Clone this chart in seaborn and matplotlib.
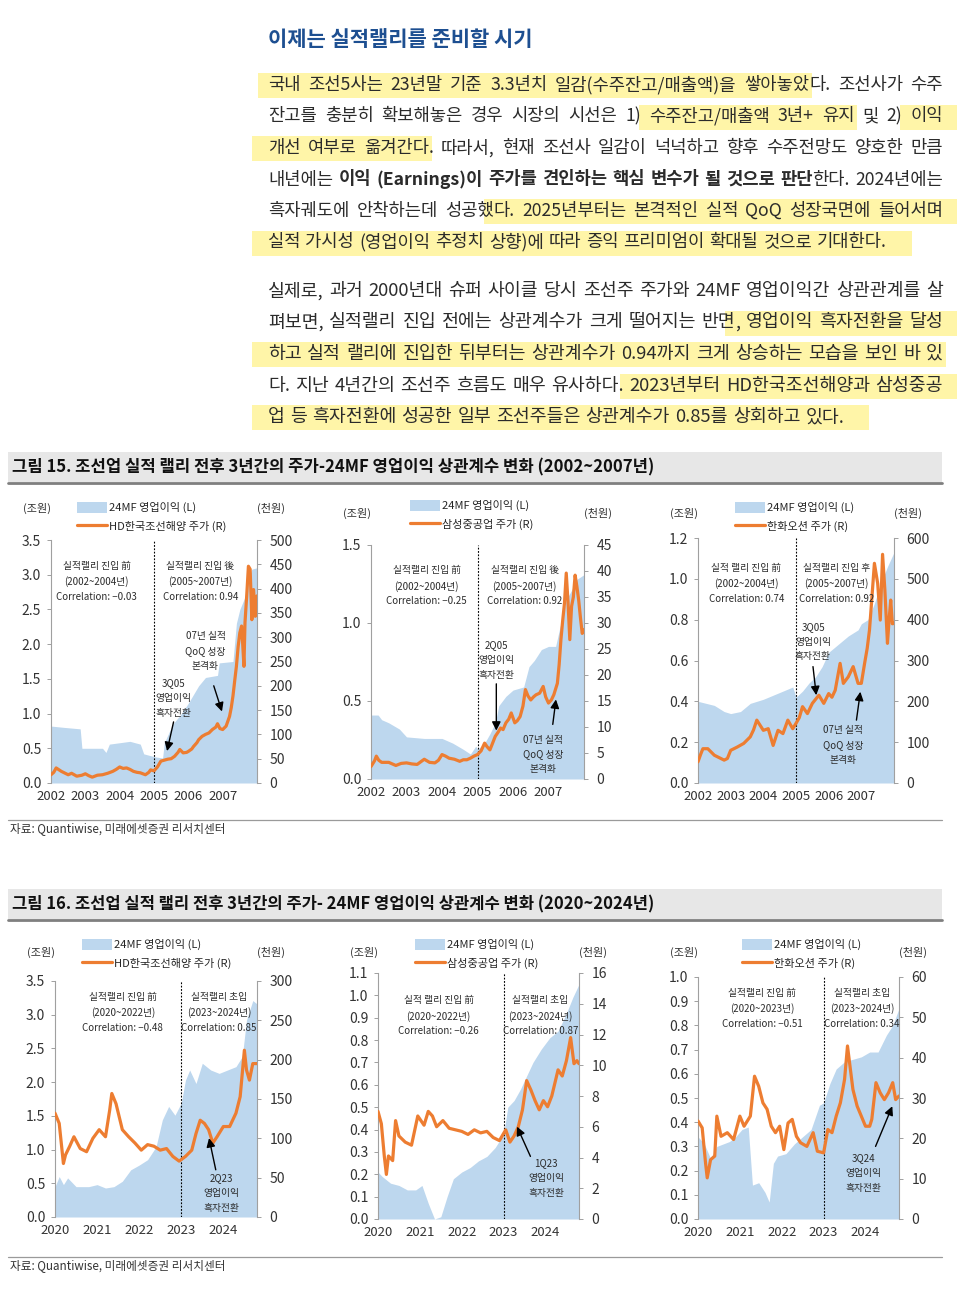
import numpy as np
import matplotlib
matplotlib.use("Agg")
import matplotlib.pyplot as plt
import seaborn as sns
from matplotlib.patches import Patch, Rectangle
from matplotlib.lines import Line2D
from matplotlib.ticker import FormatStrFormatter

sns.set_theme(style="white")
plt.rcParams["font.family"] = ["Noto Sans CJK KR", "DejaVu Sans"]
plt.rcParams["axes.unicode_minus"] = False

W, H = 961, 1290
OP_COLOR = "#BDD7EE"
PX_COLOR = "#ED7D31"
TXT = "#2b2b2b"

# ---------------- 데이터 (그림 15: 2002~2007) ----------------
hd02_op_t = [2002.0, 2002.4, 2002.85, 2002.9, 2003.5, 2003.6, 2003.7, 2004.0, 2004.3, 2004.6, 2004.7,
             2005.0, 2005.25, 2005.3, 2005.55, 2005.8, 2006.0, 2006.3, 2006.5, 2006.85, 2006.9,
             2007.3, 2007.4, 2007.5, 2007.65, 2007.75, 2007.85, 2008.0]
hd02_op = [0.82, 0.80, 0.78, 0.50, 0.50, 0.44, 0.56, 0.58, 0.60, 0.56, 0.42,
           0.38, 0.36, 0.58, 0.85, 1.00, 1.15, 1.40, 1.52, 1.55, 1.73,
           1.75, 2.30, 2.50, 2.68, 2.95, 3.08, 3.10]
hd02_px_t = [2002.0, 2002.08, 2002.15, 2002.3, 2002.5, 2002.6, 2002.75, 2002.9, 2003.0, 2003.1, 2003.2,
             2003.35, 2003.5, 2003.65, 2003.8, 2003.9, 2004.0, 2004.1, 2004.2, 2004.3, 2004.4, 2004.5,
             2004.6, 2004.75, 2004.85, 2004.9, 2005.0, 2005.1, 2005.2, 2005.3, 2005.4, 2005.5, 2005.6,
             2005.7, 2005.75, 2005.85, 2005.95, 2006.0, 2006.1, 2006.15, 2006.25, 2006.3, 2006.4, 2006.5,
             2006.6, 2006.7, 2006.8, 2006.85, 2006.92, 2007.0, 2007.1, 2007.2, 2007.25, 2007.3, 2007.35,
             2007.4, 2007.45, 2007.5, 2007.55, 2007.58, 2007.62, 2007.65, 2007.7, 2007.75, 2007.8,
             2007.85, 2007.9, 2007.95, 2008.0]
hd02_px = [17, 22, 31, 24, 17, 20, 14, 16, 19, 15, 12,
           16, 17, 20, 24, 28, 33, 30, 31, 28, 24, 22,
           21, 17, 22, 27, 25, 33, 45, 47, 49, 50, 55,
           63, 69, 62, 63, 65, 70, 75, 83, 89, 96, 100,
           103, 110, 115, 122, 112, 110, 117, 137, 155, 179, 210,
           240, 280, 309, 323, 290, 240, 330, 385, 446, 440,
           336, 398, 343, 385]

shi02_op_t = [2002.0, 2002.2, 2002.3, 2002.5, 2002.8, 2003.0, 2003.5, 2004.0, 2004.3, 2004.6, 2004.8,
              2004.95, 2005.0, 2005.2, 2005.35, 2005.5, 2005.6, 2005.8, 2006.0, 2006.3, 2006.45,
              2006.6, 2006.8, 2007.0, 2007.2, 2007.35, 2007.5, 2007.65, 2007.8, 2008.0]
shi02_op = [0.41, 0.41, 0.38, 0.36, 0.32, 0.27, 0.26, 0.26, 0.23, 0.19, 0.16,
            0.21, 0.19, 0.23, 0.29, 0.36, 0.47, 0.53, 0.57, 0.59, 0.72,
            0.76, 0.83, 0.85, 0.85, 1.00, 1.15, 1.21, 1.28, 1.31]
shi02_px_t = [2002.0, 2002.1, 2002.15, 2002.22, 2002.3, 2002.5, 2002.7, 2002.85, 2003.0, 2003.15, 2003.3,
              2003.5, 2003.65, 2003.8, 2003.9, 2004.0, 2004.1, 2004.2, 2004.35, 2004.5, 2004.6, 2004.7,
              2004.8, 2004.9, 2005.0, 2005.1, 2005.2, 2005.27, 2005.35, 2005.42, 2005.5, 2005.58, 2005.65,
              2005.72, 2005.8, 2005.88, 2005.95, 2006.05, 2006.12, 2006.2, 2006.28, 2006.35, 2006.42,
              2006.5, 2006.58, 2006.65, 2006.75, 2006.85, 2006.92, 2007.0, 2007.08, 2007.15, 2007.25,
              2007.3, 2007.35, 2007.4, 2007.45, 2007.5, 2007.55, 2007.6, 2007.65, 2007.7, 2007.75,
              2007.8, 2007.85, 2007.9, 2007.95, 2008.0]
shi02_px = [2.4, 3.5, 4.4, 3.6, 3.2, 3.2, 2.6, 3.0, 3.1, 2.9, 2.8,
            3.8, 3.2, 3.1, 3.6, 4.7, 4.4, 4.0, 3.8, 3.4, 3.7, 3.7,
            4.0, 4.4, 4.7, 5.4, 6.9, 6.2, 5.6, 6.8, 8.2, 9.0, 9.8,
            9.5, 10.8, 11.5, 12.7, 10.8, 11.2, 12.0, 14.0, 17.2, 16.0,
            15.2, 15.8, 16.2, 16.5, 17.8, 15.8, 14.6, 15.2, 16.2, 18.4,
            22.0, 26.8, 30.5, 33.8, 39.6, 34.0, 26.8, 33.2, 35.0, 39.2,
            37.0, 34.4, 31.0, 28.0, 28.7]

hwo02_op_t = [2002.0, 2002.5, 2002.8, 2003.0, 2003.3, 2003.6, 2004.0, 2004.3, 2004.6, 2004.9, 2005.0,
              2005.2, 2005.4, 2005.6, 2005.8, 2006.0, 2006.3, 2006.6, 2006.9, 2007.0, 2007.2,
              2007.4, 2007.6, 2007.8, 2008.0]
hwo02_op = [0.40, 0.38, 0.35, 0.34, 0.35, 0.39, 0.41, 0.43, 0.45, 0.47, 0.42,
            0.45, 0.49, 0.52, 0.57, 0.64, 0.68, 0.72, 0.75, 0.78, 0.80,
            0.88, 0.98, 1.06, 1.13]
hwo02_px_t = [2002.0, 2002.08, 2002.15, 2002.3, 2002.5, 2002.65, 2002.8, 2002.9, 2003.0, 2003.2, 2003.4,
              2003.6, 2003.7, 2003.8, 2004.0, 2004.15, 2004.3, 2004.45, 2004.6, 2004.75, 2004.9,
              2005.0, 2005.1, 2005.2, 2005.35, 2005.5, 2005.6, 2005.7, 2005.85, 2006.0, 2006.1,
              2006.2, 2006.35, 2006.45, 2006.6, 2006.75, 2006.9, 2007.0, 2007.1, 2007.18, 2007.25,
              2007.32, 2007.4, 2007.5, 2007.58, 2007.65, 2007.72, 2007.8, 2007.85, 2007.9, 2007.95, 2008.0]
hwo02_px = [52, 70, 84, 84, 68, 62, 56, 60, 80, 88, 97,
            113, 130, 154, 129, 133, 92, 129, 121, 154, 133,
            146, 160, 187, 170, 195, 205, 215, 195, 219, 210,
            227, 293, 244, 260, 285, 244, 244, 293, 330, 375,
            450, 538, 489, 399, 560, 473, 342, 400, 448, 390, 391]

# ---------------- 데이터 (그림 16: 2020~2024) ----------------
hd20_op_t = [2020.0, 2020.1, 2020.2, 2020.3, 2020.5, 2020.8, 2021.0, 2021.2, 2021.4, 2021.6, 2021.8,
             2022.0, 2022.2, 2022.4, 2022.55, 2022.7, 2022.85, 2023.0, 2023.1, 2023.2, 2023.35,
             2023.5, 2023.7, 2023.9, 2024.1, 2024.3, 2024.45, 2024.55, 2024.7, 2024.8]
hd20_op = [0.45, 0.60, 0.48, 0.58, 0.45, 0.45, 0.48, 0.43, 0.45, 0.53, 0.70,
           0.77, 0.85, 1.04, 1.44, 1.64, 1.51, 1.69, 2.03, 2.18, 1.98,
           2.28, 2.18, 2.13, 2.18, 2.23, 2.38, 2.92, 3.21, 3.16]
hd20_px_t = [2020.0, 2020.1, 2020.2, 2020.25, 2020.35, 2020.45, 2020.6, 2020.75, 2020.9, 2021.05, 2021.2,
             2021.3, 2021.35, 2021.45, 2021.6, 2021.75, 2021.9, 2022.05, 2022.2, 2022.35, 2022.5,
             2022.65, 2022.8, 2022.95, 2023.1, 2023.25, 2023.35, 2023.45, 2023.55, 2023.65, 2023.75,
             2023.85, 2024.0, 2024.15, 2024.3, 2024.4, 2024.5, 2024.55, 2024.62, 2024.7, 2024.8]
hd20_px = [132, 119, 68, 79, 90, 102, 87, 83, 100, 111, 102,
           136, 157, 144, 111, 102, 94, 85, 92, 90, 85,
           87, 77, 71, 77, 85, 106, 123, 119, 111, 94,
           102, 115, 115, 132, 153, 212, 187, 174, 195, 195]

shi20_op_t = [2020.0, 2020.1, 2020.3, 2020.5, 2020.7, 2020.9, 2021.05, 2021.2, 2021.35, 2021.5, 2021.65,
              2021.8, 2022.0, 2022.2, 2022.4, 2022.6, 2022.8, 2023.0, 2023.1, 2023.25, 2023.4,
              2023.55, 2023.7, 2023.9, 2024.1, 2024.3, 2024.5, 2024.65, 2024.8]
shi20_op = [0.21, 0.19, 0.16, 0.15, 0.13, 0.13, 0.15, 0.07, 0.00, 0.01, 0.10,
            0.18, 0.21, 0.23, 0.26, 0.28, 0.32, 0.38, 0.50, 0.53, 0.58,
            0.64, 0.70, 0.76, 0.81, 0.84, 0.92, 0.99, 1.05]
shi20_px_t = [2020.0, 2020.08, 2020.15, 2020.2, 2020.25, 2020.35, 2020.42, 2020.5, 2020.65, 2020.8, 2020.95,
              2021.1, 2021.2, 2021.3, 2021.4, 2021.55, 2021.7, 2021.85, 2022.0, 2022.15, 2022.3,
              2022.45, 2022.6, 2022.75, 2022.9, 2023.05, 2023.15, 2023.25, 2023.35, 2023.45, 2023.55,
              2023.65, 2023.75, 2023.85, 2023.95, 2024.05, 2024.15, 2024.3, 2024.4, 2024.5, 2024.6,
              2024.68, 2024.75, 2024.8]
shi20_px = [7.0, 6.2, 4.1, 2.9, 4.1, 3.8, 6.4, 5.4, 5.0, 4.8, 6.7,
            6.1, 7.0, 6.7, 6.0, 6.4, 5.9, 5.8, 5.7, 5.5, 5.8,
            5.6, 5.7, 5.3, 5.1, 5.8, 5.0, 5.4, 6.0, 7.1, 9.0,
            8.4, 7.7, 7.1, 7.7, 7.3, 8.0, 9.7, 9.3, 10.3, 11.8,
            10.1, 10.3, 10.1]

hwo20_op_t = [2020.0, 2020.15, 2020.3, 2020.45, 2020.6, 2020.75, 2020.9, 2021.05, 2021.2, 2021.3, 2021.45,
              2021.6, 2021.7, 2021.8, 2021.9, 2022.1, 2022.3, 2022.5, 2022.7, 2022.9, 2023.0,
              2023.15, 2023.3, 2023.5, 2023.7, 2023.9, 2024.1, 2024.3, 2024.5, 2024.65, 2024.8]
hwo20_op = [0.34, 0.31, 0.25, 0.30, 0.31, 0.32, 0.34, 0.37, 0.38, 0.14, 0.15,
            0.11, 0.07, 0.23, 0.26, 0.27, 0.31, 0.34, 0.37, 0.47, 0.48,
            0.56, 0.62, 0.65, 0.66, 0.67, 0.69, 0.69, 0.76, 0.80, 0.87]
hwo20_px_t = [2020.0, 2020.1, 2020.18, 2020.22, 2020.3, 2020.4, 2020.45, 2020.55, 2020.7, 2020.85, 2021.0,
              2021.1, 2021.25, 2021.35, 2021.45, 2021.55, 2021.65, 2021.75, 2021.85, 2021.95, 2022.05,
              2022.15, 2022.25, 2022.35, 2022.45, 2022.6, 2022.75, 2022.85, 2023.0, 2023.1, 2023.2,
              2023.3, 2023.4, 2023.5, 2023.57, 2023.62, 2023.7, 2023.8, 2023.9, 2024.0, 2024.1,
              2024.15, 2024.25, 2024.35, 2024.45, 2024.55, 2024.65, 2024.72, 2024.8]
hwo20_px = [24.3, 22.6, 13.9, 10.2, 14.7, 15.6, 25.5, 20.5, 21.4, 19.7, 25.5,
            23.0, 25.5, 35.4, 32.9, 28.8, 27.2, 23.0, 21.4, 23.0, 17.2,
            23.8, 24.7, 20.5, 18.9, 18.0, 21.4, 16.8, 16.4, 22.2, 21.4,
            25.5, 28.8, 34.6, 42.9, 38.7, 32.1, 28.0, 25.5, 23.0, 23.0,
            24.7, 33.8, 31.3, 29.6, 31.3, 33.8, 29.6, 30.5]

# ---------------- 본문 텍스트 ----------------
title = "이제는 실적랠리를 준비할 시기"
para1 = [
    "{국내 조선5사는 23년말 기준 3.3년치 일감(수주잔고/매출액)을 쌓아놓았}다. 조선사가 수주",
    "잔고를 충분히 확보해놓은 경우 시장의 시선은 1) {수주잔고/매출액 3년+ 유지} 및 2) {이익",
    "개선 여부로 옮겨간다}. 따라서, 현재 조선사 일감이 넉넉하고 향후 수주전망도 양호한 만큼",
    "내년에는 *이익 (Earnings)이 주가를 견인하는 핵심 변수가 될 것으로 판단*한다. 2024년에는",
    "흑자궤도에 안착하는데 성공했{다. 2025년부터는 본격적인 실적 QoQ 성장국면에 들어서며",
    "실적 가시성 (영업이익 추정치 상향)에 따라 증익 프리미엄이 확대될 것으로 기대한다.}",
]
para2 = [
    "실제로, 과거 2000년대 슈퍼 사이클 당시 조선주 주가와 24MF 영업이익간 상관관계를 살",
    "펴보면, 실적랠리 진입 전에는 상관계수가 크게 떨어지는 반면{, 영업이익 흑자전환을 달성",
    "하고 실적 랠리에 진입한 뒤부터는 상관계수가 0.94까지 크게 상승하는 모습을 보인 바 있}",
    "다. 지난 4년간의 조선주 흐름도 매우 유사하다. {2023년부터 HD한국조선해양과 삼성중공",
    "업 등 흑자전환에 성공한 일부 조선주들은 상관계수가 0.85를 상회하고 있다.}",
]
fig15_title = "그림 15. 조선업 실적 랠리 전후 3년간의 주가-24MF 영업이익 상관계수 변화 (2002~2007년)"
fig16_title = "그림 16. 조선업 실적 랠리 전후 3년간의 주가- 24MF 영업이익 상관계수 변화 (2020~2024년)"
source = "자료: Quantiwise, 미래에셋증권 리서치센터"

fig = plt.figure(figsize=(W / 100, H / 100), dpi=100)
page = fig.add_axes([0, 0, 1, 1])
page.set_xlim(0, W)
page.set_ylim(H, 0)
page.axis("off")
renderer = fig.canvas.get_renderer()


def text_w(s, size, bold=False):
    t = page.text(0, 0, s, fontsize=size, fontweight="bold" if bold else "normal")
    w = t.get_window_extent(renderer).width
    t.remove()
    return w


def fit_text(x, y, s, width, size, **kw):
    t = page.text(x, y, s, fontsize=size, **kw)
    w = t.get_window_extent(renderer).width
    t.set_fontsize(size * width / w)
    return t


def parse(lines):
    bold = False
    out = []
    for line in lines:
        words = []
        for raw in line.split(" "):
            segs, buf = [], ""
            for ch in raw:
                if ch in "*{}":
                    if buf:
                        segs.append((buf, bold))
                        buf = ""
                    if ch == "*":
                        bold = not bold
                    else:
                        segs.append(ch)
                else:
                    buf += ch
            if buf:
                segs.append((buf, bold))
            words.append(segs)
        out.append(words)
    return out


def paragraph(lines, y0, step, x0=268, x1=943, base=12):
    parsed = parse(lines)
    sp = lambda sz: 0.28 * sz * 100 / 72

    def word_w(segs, sz):
        return sum(text_w(s[0], sz, s[1]) for s in segs if isinstance(s, tuple))

    widest = max(sum(word_w(w, base) for w in words) + sp(base) * (len(words) - 1)
                 for words in parsed[:-1])
    size = base * (x1 - x0) / widest
    hl_on = False
    for i, words in enumerate(parsed):
        y = y0 + i * step
        widths = [word_w(w, size) for w in words]
        last = i == len(parsed) - 1
        gap = sp(size) if last else (x1 - x0 - sum(widths)) / (len(words) - 1)
        x = x0
        start = x0 - 16 if hl_on else None
        spans = []
        for segs in words:
            for s in segs:
                if s == "{":
                    hl_on, start = True, x - 10
                elif s == "}":
                    hl_on = False
                    spans.append((start, x + (25 if last else 3)))
                else:
                    page.text(x, y, s[0], fontsize=size, color=TXT, va="center", ha="left",
                              fontweight="bold" if s[1] else "normal", zorder=3)
                    x += text_w(s[0], size, s[1])
            x += gap
        if hl_on:
            spans.append((start, x - gap + 14))
        for a, b in spans:
            page.add_patch(Rectangle((a, y - 12), b - a, 25, facecolor="#FFF5A8", lw=0, zorder=1))


fit_text(268, 40, title, 265, 14, fontweight="bold", color="#1d4f91", va="center")
paragraph(para1, 85, 31.5)
paragraph(para2, 291, 31.5)

for ytop, label in [(452, fig15_title), (889, fig16_title)]:
    page.add_patch(Rectangle((8, ytop), 934, 30, facecolor="#e7e7e7", lw=0, zorder=1))
    page.plot([8, 942], [ytop + 31, ytop + 31], color="#7f7f7f", lw=2, zorder=2)
    fit_text(12, ytop + 15, label, 640, 11, fontweight="bold", color="#111", va="center", zorder=3)

for yl in [820, 1257]:
    page.plot([8, 942], [yl, yl], color="#9a9a9a", lw=0.9)
    fit_text(10, yl + 9, source, 216, 8, color="#333", va="center")

# ---------------- 차트 ----------------
charts = [
    dict(box=(51, 540, 257, 783), op_t=hd02_op_t, op=hd02_op, px_t=hd02_px_t, px=hd02_px,
         name="HD한국조선해양 주가 (R)", xlim=(2002, 2008), years=range(2002, 2008), split=2005,
         yl=(3.5, 0.5), yr=(500, 50), unit_y=508, leg=(77, 502),
         left=(2003.33, 3.2, "실적랠리 진입 前\n(2002~2004년)\nCorrelation: −0.03"),
         right=(2006.35, 3.2, "실적랠리 진입 後\n(2005~2007년)\nCorrelation: 0.94"),
         arrows=[("3Q05\n영업이익\n흑자전환", (2005.57, 1.51), (2005.57, 0.88), (2005.38, 0.46)),
                 ("07년 실적\nQoQ 성장\n본격화", (2006.5, 2.19), (2006.74, 1.40), (2006.98, 1.03))]),
    dict(box=(371, 545, 584, 779), op_t=shi02_op_t, op=shi02_op, px_t=shi02_px_t, px=shi02_px,
         name="삼성중공업 주가 (R)", xlim=(2002, 2008), years=range(2002, 2008), split=2005,
         yl=(1.5, 0.5), yr=(45, 5), unit_y=513, leg=(410, 500),
         left=(2003.57, 1.37, "실적랠리 진입 前\n(2002~2004년)\nCorrelation: −0.25"),
         right=(2006.33, 1.37, "실적랠리 진입 後\n(2005~2007년)\nCorrelation: 0.92"),
         arrows=[("2Q05\n영업이익\n흑자전환", (2005.53, 0.89), (2005.53, 0.61), (2005.53, 0.31)),
                 ("07년 실적\nQoQ 성장\n본격화", (2006.84, 0.284), (2007.12, 0.35), (2007.21, 0.51))]),
    dict(box=(698, 538, 894, 783), op_t=hwo02_op_t, op=hwo02_op, px_t=hwo02_px_t, px=hwo02_px,
         name="한화오션 주가 (R)", xlim=(2002, 2008), years=range(2002, 2008), split=2005,
         yl=(1.2, 0.2), yr=(600, 100), unit_y=513, leg=(735, 502),
         left=(2003.48, 1.077, "실적 랠리 진입 前\n(2002~2004년)\nCorrelation: 0.74"),
         right=(2006.23, 1.077, "실적랠리 진입 후\n(2005~2007년)\nCorrelation: 0.92"),
         arrows=[("3Q05\n영업이익\n흑자전환", (2005.52, 0.79), (2005.52, 0.57), (2005.62, 0.43)),
                 ("07년 실적\nQoQ 성장\n본격화", (2006.44, 0.283), (2006.85, 0.308), (2006.97, 0.447))]),
    dict(box=(55, 981, 257, 1217), op_t=hd20_op_t, op=hd20_op, px_t=hd20_px_t, px=hd20_px,
         name="HD한국조선해양 주가 (R)", xlim=(2020, 2024.8), years=range(2020, 2025), split=2023,
         yl=(3.5, 0.5), yr=(300, 50), unit_y=952, leg=(82, 939),
         left=(2021.61, 3.34, "실적랠리 진입 前\n(2020~2022년)\nCorrelation: −0.48"),
         right=(2023.9, 3.34, "실적랠리 초입\n(2023~2024년)\nCorrelation: 0.85"),
         arrows=[("2Q23\n영업이익\n흑자전환", (2023.96, 0.65), (2023.82, 0.70), (2023.66, 1.17))]),
    dict(box=(378, 973, 579, 1219), op_t=shi20_op_t, op=shi20_op, px_t=shi20_px_t, px=shi20_px,
         name="삼성중공업 주가 (R)", xlim=(2020, 2024.8), years=range(2020, 2025), split=2023,
         yl=(1.1, 0.1), yr=(16, 2), unit_y=952, leg=(415, 939),
         left=(2021.45, 1.0, "실적 랠리 진입 前\n(2020~2022년)\nCorrelation: −0.26"),
         right=(2023.88, 1.0, "실적랠리 초입\n(2023~2024년)\nCorrelation: 0.87"),
         arrows=[("1Q23\n영업이익\n흑자전환", (2024.02, 0.272), (2023.64, 0.28), (2023.32, 0.413))]),
    dict(box=(698, 977, 899, 1219), op_t=hwo20_op_t, op=hwo20_op, px_t=hwo20_px_t, px=hwo20_px,
         name="한화오션 주가 (R)", xlim=(2020, 2024.8), years=range(2020, 2025), split=2023,
         yl=(1.0, 0.1), yr=(60, 10), unit_y=952, leg=(742, 939),
         left=(2021.53, 0.956, "실적랠리 진입 前\n(2020~2023년)\nCorrelation: −0.51"),
         right=(2023.92, 0.956, "실적랠리 초입\n(2023~2024년)\nCorrelation: 0.34"),
         arrows=[("3Q24\n영업이익\n흑자전환", (2023.96, 0.273), (2024.24, 0.30), (2024.64, 0.466))]),
]

for c in charts:
    l, t, r, b = c["box"]
    ax = fig.add_axes([l / W, 1 - b / H, (r - l) / W, (b - t) / H])
    ax.fill_between(c["op_t"], 0, c["op"], color=OP_COLOR, lw=0, zorder=1)
    ax.set_xlim(*c["xlim"])
    ax.set_ylim(0, c["yl"][0])
    ax.set_yticks(np.arange(0, c["yl"][0] + 1e-6, c["yl"][1]))
    ax.yaxis.set_major_formatter(FormatStrFormatter("%.1f"))
    ax.set_xticks(list(c["years"]))
    ax.set_xticklabels([str(y) for y in c["years"]])
    ax.axvline(c["split"], color="black", lw=0.8, ls=(0, (1.6, 1.4)), zorder=2)

    ax2 = ax.twinx()
    sns.lineplot(x=c["px_t"], y=c["px"], ax=ax2, color=PX_COLOR, lw=2.3, legend=False, zorder=3)
    ax2.set_ylim(0, c["yr"][0])
    ax2.set_yticks(np.arange(0, c["yr"][0] + 1e-6, c["yr"][1]))
    ax2.set_xlim(*c["xlim"])

    for a in (ax, ax2):
        for s in a.spines.values():
            s.set_visible(False)
    ax.spines["left"].set_visible(True)
    ax2.spines["right"].set_visible(True)
    ax.spines["left"].set_color("#a0a0a0")
    ax2.spines["right"].set_color("#a0a0a0")
    ax.spines["left"].set_linewidth(0.8)
    ax2.spines["right"].set_linewidth(0.8)
    ax.tick_params(axis="y", left=True, length=3, width=0.7, color="#a0a0a0",
                   labelsize=10, pad=4, labelcolor="#333")
    ax.tick_params(axis="x", bottom=False, length=0, labelsize=9.5, pad=5, labelcolor="#333")
    ax2.tick_params(axis="y", right=True, length=3, width=0.7, color="#a0a0a0",
                    labelsize=10, pad=6, labelcolor="#333")

    for x, y, s in (c["left"], c["right"]):
        ax2.text(x, y, s, transform=ax.transData, ha="center", va="top", fontsize=7,
                 color=TXT, linespacing=1.6, zorder=5)
    for s, (tx, ty), tail, tip in c["arrows"]:
        ax2.text(tx, ty, s, transform=ax.transData, ha="center", va="top", fontsize=7,
                 color=TXT, linespacing=1.6, zorder=5)
        ax2.annotate("", xy=tip, xytext=tail, xycoords=ax.transData, textcoords=ax.transData,
                     arrowprops=dict(arrowstyle="-|>", color="black", lw=1, mutation_scale=13,
                                     shrinkA=0, shrinkB=0), zorder=6)

    lx, ly = c["leg"]
    ax.legend(handles=[Patch(facecolor=OP_COLOR, edgecolor="none"),
                       Line2D([], [], color=PX_COLOR, lw=2.3)],
              labels=["24MF 영업이익 (L)", c["name"]],
              loc="upper left", bbox_to_anchor=((lx - l) / (r - l), (b - ly) / (b - t)),
              frameon=False, fontsize=8, handlelength=2.7, handleheight=1.1,
              handletextpad=0.2, labelspacing=0.65, borderpad=0, borderaxespad=0)
    page.text(l - 14, c["unit_y"], "(조원)", fontsize=8, ha="center", va="center", color="#333")
    page.text(r + 14, c["unit_y"], "(천원)", fontsize=8, ha="center", va="center", color="#333")

fig.savefig("out.png", dpi=100)
